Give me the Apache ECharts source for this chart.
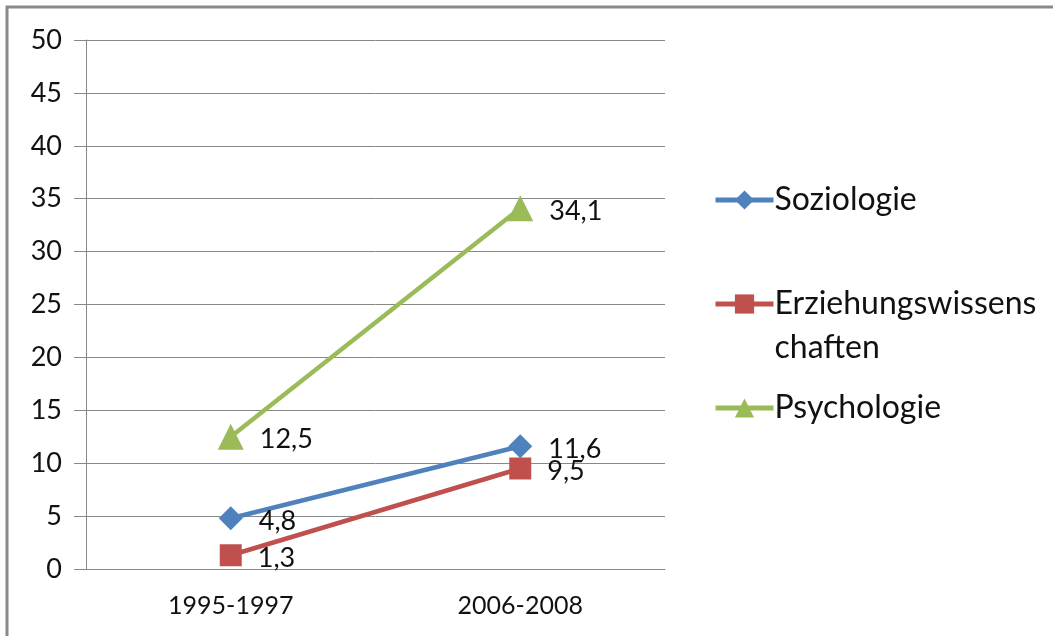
<!DOCTYPE html>
<html lang="de">
  <head>
    <meta charset="UTF-8" />
    <title>Soziologie / Erziehungswissenschaften / Psychologie</title>
    <script src="https://cdn.jsdelivr.net/npm/echarts@6/dist/echarts.min.js"></script>
    <style>
      html, body { margin: 0; padding: 0; background: #fff; }
      #chart { width: 1053px; height: 636px; }
    </style>
  </head>
  <body>
    <div id="chart"></div>
  </body>
</html>
<script>
  const categories = ["1995-1997", "2006-2008"];
  const soziologie = [4.8, 11.6];
  const erziehung = [1.3, 9.5];
  const psychologie = [12.5, 34.1];

  const font = "Lato, 'Open Sans', sans-serif";
  const comma = (p) => String(p.value).replace(".", ",");

  const chart = echarts.init(document.getElementById("chart"));

  // one legend per entry so each can sit exactly where the original puts it
  function legendFor(name, top, extra) {
    return Object.assign({
      data: [name],
      orient: "vertical",
      left: 708,
      top: top,
      itemWidth: 58,
      itemHeight: 24,
      itemGap: 0,
      lineStyle: { width: 5 },
      textStyle: { fontFamily: font, fontSize: 32, color: "#111", lineHeight: 44, padding: [0, 0, 0, -4] }
    }, extra || {});
  }

  function lineSeries(name, data, color, symbol, size) {
    return {
      name: name,
      type: "line",
      data: data,
      symbol: symbol,
      symbolSize: size,
      lineStyle: { width: 4.5, color: color },
      itemStyle: { color: color },
      label: {
        show: true,
        position: "right",
        distance: 16,
        offset: [0, 3],
        formatter: comma,
        fontFamily: font,
        fontSize: 27,
        color: "#111"
      }
    };
  }

  const option = {
    animation: false,
    backgroundColor: "#fff",
    graphic: [
      {
        type: "rect",
        shape: { x: 7, y: 7, width: 1200, height: 800 },
        style: { fill: "none", stroke: "#8a8a8a", lineWidth: 3 },
        silent: true
      }
    ],
    grid: { left: 86, right: 388, top: 40, bottom: 67 },
    legend: [
      legendFor("Soziologie", 173),
      // blank first line keeps the icon level with the first text line
      legendFor("Erziehungswissenschaften", 233, {
        formatter: () => "\nErziehungswissens\nchaften"
      }),
      legendFor("Psychologie", 381)
    ],
    xAxis: {
      type: "category",
      data: categories,
      boundaryGap: true,
      axisLine: { lineStyle: { color: "#888", width: 1 } },
      axisTick: { length: 9, lineStyle: { color: "#888" } },
      axisLabel: { margin: 24, fontFamily: font, fontSize: 25, color: "#111" }
    },
    yAxis: {
      type: "value",
      min: 0,
      max: 50,
      interval: 5,
      axisLine: { show: true, lineStyle: { color: "#888", width: 1 } },
      axisTick: { show: true, length: 12, lineStyle: { color: "#888" } },
      axisLabel: { margin: 24, fontFamily: font, fontSize: 27, color: "#111" },
      splitLine: { lineStyle: { color: "#888", width: 1 } }
    },
    series: [
      lineSeries("Soziologie", soziologie, "#4f81bd", "diamond", 24),
      lineSeries("Erziehungswissenschaften", erziehung, "#c0504d", "rect", 22),
      lineSeries("Psychologie", psychologie, "#9bbb59", "triangle", 26)
    ]
  };
  chart.setOption(option);
</script>
